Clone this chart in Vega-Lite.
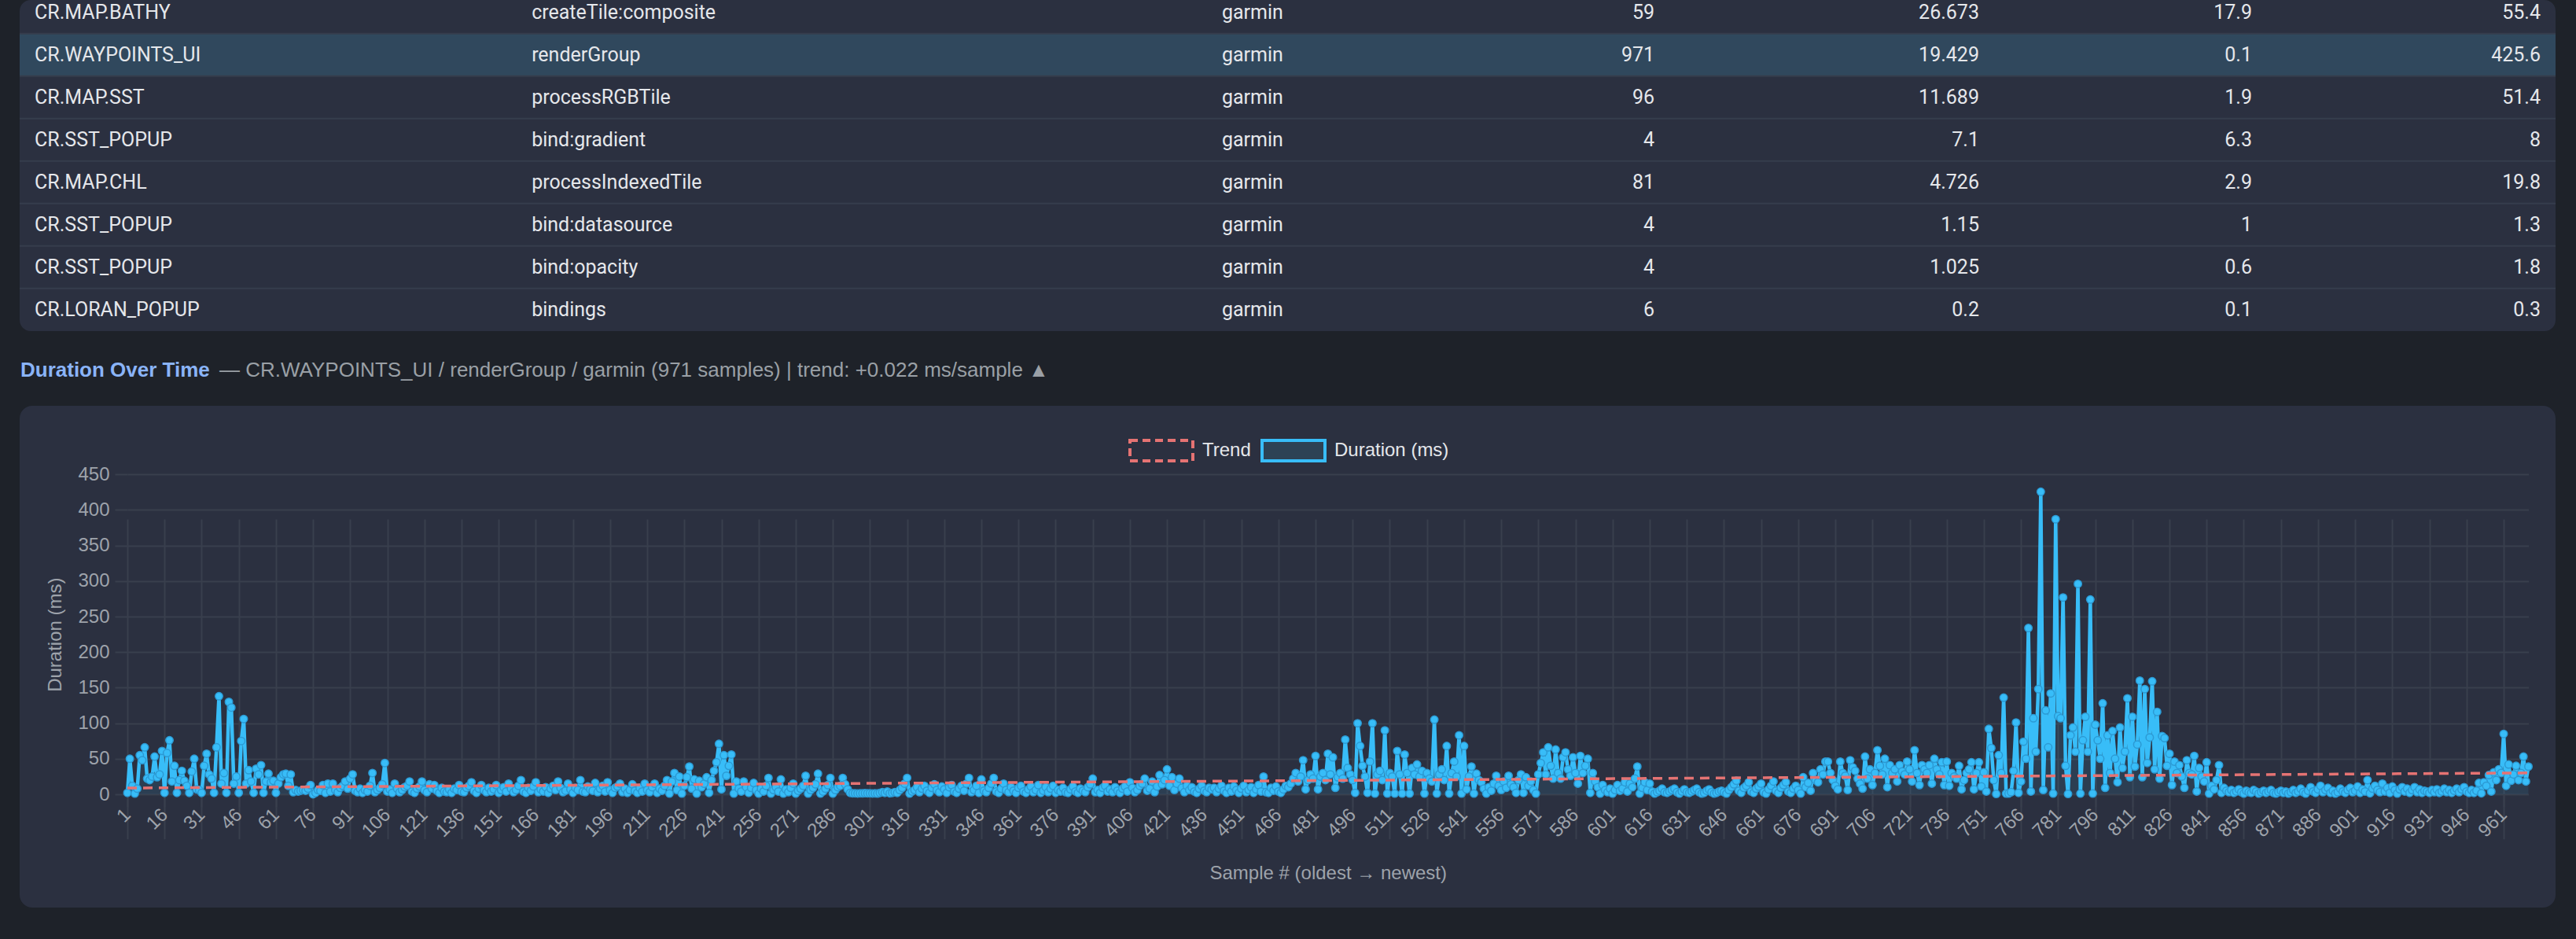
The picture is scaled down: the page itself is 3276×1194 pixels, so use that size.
{
  "$schema": "https://vega.github.io/schema/vega-lite/v6.json",
  "background": "#1e2229",
  "padding": {"left": 24, "right": 27, "top": 0, "bottom": 40},
  "spacing": 0,
  "config": {
    "view": {"stroke": null},
    "font": "Liberation Sans",
    "axis": {
      "labelFont": "Liberation Sans", "labelFontSize": 24, "labelColor": "#9ea3ab",
      "titleFont": "Liberation Sans", "titleFontSize": 24, "titleFontWeight": "normal", "titleColor": "#9ea3ab",
      "gridColor": "#393f4d", "gridWidth": 2, "tickColor": "#393f4d", "tickWidth": 2, "tickSize": 16, "domain": false
    },
    "legend": {"labelFont": "Liberation Sans", "labelFontSize": 24, "labelColor": "#e5e7eb"}
  },
  "datasets": {
    "stats": [
      {"r": 0, "name": "CR.MAP.BATHY", "op": "createTile:composite", "platform": "garmin", "count": 59, "mean": 26.673, "min": 17.9, "max": 55.4},
      {"r": 1, "name": "CR.WAYPOINTS_UI", "op": "renderGroup", "platform": "garmin", "count": 971, "mean": 19.429, "min": 0.1, "max": 425.6},
      {"r": 2, "name": "CR.MAP.SST", "op": "processRGBTile", "platform": "garmin", "count": 96, "mean": 11.689, "min": 1.9, "max": 51.4},
      {"r": 3, "name": "CR.SST_POPUP", "op": "bind:gradient", "platform": "garmin", "count": 4, "mean": 7.1, "min": 6.3, "max": 8},
      {"r": 4, "name": "CR.MAP.CHL", "op": "processIndexedTile", "platform": "garmin", "count": 81, "mean": 4.726, "min": 2.9, "max": 19.8},
      {"r": 5, "name": "CR.SST_POPUP", "op": "bind:datasource", "platform": "garmin", "count": 4, "mean": 1.15, "min": 1, "max": 1.3},
      {"r": 6, "name": "CR.SST_POPUP", "op": "bind:opacity", "platform": "garmin", "count": 4, "mean": 1.025, "min": 0.6, "max": 1.8},
      {"r": 7, "name": "CR.LORAN_POPUP", "op": "bindings", "platform": "garmin", "count": 6, "mean": 0.2, "min": 0.1, "max": 0.3}
    ],
    "trend": [{"i": 1, "ms": 8.8}, {"i": 971, "ms": 30.1}],
    "durations": [
{"i":1,"ms":2},{"i":2,"ms":50},{"i":3,"ms":12},{"i":4,"ms":1},{"i":5,"ms":8},{"i":6,"ms":55},{"i":7,"ms":48},{"i":8,"ms":66},{"i":9,"ms":22},{"i":10,"ms":20},
{"i":11,"ms":25},{"i":12,"ms":53},{"i":13,"ms":24},{"i":14,"ms":28},{"i":15,"ms":61},{"i":16,"ms":2},{"i":17,"ms":58},{"i":18,"ms":76},{"i":19,"ms":18},{"i":20,"ms":40},
{"i":21,"ms":2},{"i":22,"ms":20},{"i":23,"ms":33},{"i":24,"ms":19},{"i":25,"ms":12},{"i":26,"ms":2},{"i":27,"ms":32},{"i":28,"ms":50},{"i":29,"ms":7},{"i":30,"ms":6},
{"i":31,"ms":2},{"i":32,"ms":40},{"i":33,"ms":57},{"i":34,"ms":28},{"i":35,"ms":22},{"i":36,"ms":2},{"i":37,"ms":66},{"i":38,"ms":138},{"i":39,"ms":15},{"i":40,"ms":30},
{"i":41,"ms":2},{"i":42,"ms":130},{"i":43,"ms":122},{"i":44,"ms":15},{"i":45,"ms":25},{"i":46,"ms":2},{"i":47,"ms":75},{"i":48,"ms":106},{"i":49,"ms":15},{"i":50,"ms":34},
{"i":51,"ms":18},{"i":52,"ms":2},{"i":53,"ms":36},{"i":54,"ms":28},{"i":55,"ms":41},{"i":56,"ms":2},{"i":57,"ms":18},{"i":58,"ms":29},{"i":59,"ms":17},{"i":60,"ms":19},
{"i":61,"ms":2},{"i":62,"ms":15},{"i":63,"ms":24},{"i":64,"ms":28},{"i":65,"ms":29},{"i":66,"ms":12},{"i":67,"ms":28},{"i":68,"ms":3},{"i":69,"ms":6},{"i":70,"ms":4},
{"i":71,"ms":5},{"i":72,"ms":6},{"i":73,"ms":5},{"i":74,"ms":8},{"i":75,"ms":13},{"i":76,"ms":0.1},{"i":77,"ms":2},{"i":78,"ms":6},{"i":79,"ms":5},{"i":80,"ms":13},
{"i":81,"ms":2},{"i":82,"ms":15},{"i":83,"ms":4},{"i":84,"ms":15},{"i":85,"ms":6},{"i":86,"ms":3},{"i":87,"ms":9},{"i":88,"ms":12},{"i":89,"ms":18},{"i":90,"ms":8},
{"i":91,"ms":22},{"i":92,"ms":28},{"i":93,"ms":5},{"i":94,"ms":3},{"i":95,"ms":8},{"i":96,"ms":2},{"i":97,"ms":6},{"i":98,"ms":4},{"i":99,"ms":12},{"i":100,"ms":30},
{"i":101,"ms":3},{"i":102,"ms":6},{"i":103,"ms":9},{"i":104,"ms":14},{"i":105,"ms":44},{"i":106,"ms":4},{"i":107,"ms":7},{"i":108,"ms":2},{"i":109,"ms":15},{"i":110,"ms":8},
{"i":111,"ms":3},{"i":112,"ms":6},{"i":113,"ms":10},{"i":114,"ms":12},{"i":115,"ms":18},{"i":116,"ms":4},{"i":117,"ms":2},{"i":118,"ms":8},{"i":119,"ms":11},{"i":120,"ms":18},
{"i":121,"ms":6},{"i":122,"ms":3},{"i":123,"ms":14},{"i":124,"ms":8},{"i":125,"ms":13},{"i":126,"ms":5},{"i":127,"ms":2},{"i":128,"ms":9},{"i":129,"ms":4},{"i":130,"ms":3},
{"i":131,"ms":7},{"i":132,"ms":2},{"i":133,"ms":8},{"i":134,"ms":6},{"i":135,"ms":13},{"i":136,"ms":4},{"i":137,"ms":3},{"i":138,"ms":9},{"i":139,"ms":12},{"i":140,"ms":17},
{"i":141,"ms":5},{"i":142,"ms":2},{"i":143,"ms":8},{"i":144,"ms":13},{"i":145,"ms":6},{"i":146,"ms":3},{"i":147,"ms":9},{"i":148,"ms":4},{"i":149,"ms":7},{"i":150,"ms":13},
{"i":151,"ms":2},{"i":152,"ms":6},{"i":153,"ms":10},{"i":154,"ms":4},{"i":155,"ms":15},{"i":156,"ms":8},{"i":157,"ms":3},{"i":158,"ms":6},{"i":159,"ms":12},{"i":160,"ms":20},
{"i":161,"ms":4},{"i":162,"ms":2},{"i":163,"ms":9},{"i":164,"ms":5},{"i":165,"ms":11},{"i":166,"ms":17},{"i":167,"ms":3},{"i":168,"ms":7},{"i":169,"ms":4},{"i":170,"ms":10},
{"i":171,"ms":2},{"i":172,"ms":8},{"i":173,"ms":12},{"i":174,"ms":6},{"i":175,"ms":18},{"i":176,"ms":9},{"i":177,"ms":3},{"i":178,"ms":5},{"i":179,"ms":15},{"i":180,"ms":7},
{"i":181,"ms":2},{"i":182,"ms":9},{"i":183,"ms":6},{"i":184,"ms":20},{"i":185,"ms":4},{"i":186,"ms":3},{"i":187,"ms":11},{"i":188,"ms":7},{"i":189,"ms":5},{"i":190,"ms":16},
{"i":191,"ms":3},{"i":192,"ms":8},{"i":193,"ms":12},{"i":194,"ms":4},{"i":195,"ms":17},{"i":196,"ms":6},{"i":197,"ms":2},{"i":198,"ms":9},{"i":199,"ms":11},{"i":200,"ms":15},
{"i":201,"ms":3},{"i":202,"ms":8},{"i":203,"ms":2},{"i":204,"ms":6},{"i":205,"ms":14},{"i":206,"ms":5},{"i":207,"ms":2},{"i":208,"ms":9},{"i":209,"ms":4},{"i":210,"ms":15},
{"i":211,"ms":6},{"i":212,"ms":3},{"i":213,"ms":10},{"i":214,"ms":15},{"i":215,"ms":2},{"i":216,"ms":8},{"i":217,"ms":5},{"i":218,"ms":12},{"i":219,"ms":20},{"i":220,"ms":1},
{"i":221,"ms":18},{"i":222,"ms":30},{"i":223,"ms":6},{"i":224,"ms":25},{"i":225,"ms":1},{"i":226,"ms":12},{"i":227,"ms":24},{"i":228,"ms":39},{"i":229,"ms":8},{"i":230,"ms":21},
{"i":231,"ms":1},{"i":232,"ms":19},{"i":233,"ms":10},{"i":234,"ms":15},{"i":235,"ms":24},{"i":236,"ms":2},{"i":237,"ms":20},{"i":238,"ms":33},{"i":239,"ms":45},{"i":240,"ms":71},
{"i":241,"ms":7},{"i":242,"ms":55},{"i":243,"ms":26},{"i":244,"ms":40},{"i":245,"ms":56},{"i":246,"ms":1},{"i":247,"ms":18},{"i":248,"ms":8},{"i":249,"ms":4},{"i":250,"ms":18},
{"i":251,"ms":10},{"i":252,"ms":2},{"i":253,"ms":9},{"i":254,"ms":16},{"i":255,"ms":6},{"i":256,"ms":1},{"i":257,"ms":8},{"i":258,"ms":4},{"i":259,"ms":12},{"i":260,"ms":23},
{"i":261,"ms":1},{"i":262,"ms":6},{"i":263,"ms":10},{"i":264,"ms":4},{"i":265,"ms":21},{"i":266,"ms":1},{"i":267,"ms":7},{"i":268,"ms":3},{"i":269,"ms":9},{"i":270,"ms":15},
{"i":271,"ms":1},{"i":272,"ms":5},{"i":273,"ms":8},{"i":274,"ms":12},{"i":275,"ms":26},{"i":276,"ms":1},{"i":277,"ms":6},{"i":278,"ms":9},{"i":279,"ms":14},{"i":280,"ms":29},
{"i":281,"ms":1},{"i":282,"ms":4},{"i":283,"ms":8},{"i":284,"ms":13},{"i":285,"ms":23},{"i":286,"ms":1},{"i":287,"ms":6},{"i":288,"ms":10},{"i":289,"ms":12},{"i":290,"ms":23},
{"i":291,"ms":14},{"i":292,"ms":7},{"i":293,"ms":2},{"i":294,"ms":1.5},{"i":295,"ms":1.5},{"i":296,"ms":1.2},{"i":297,"ms":1.5},{"i":298,"ms":1.3},{"i":299,"ms":1.6},{"i":300,"ms":1.4},
{"i":301,"ms":1.5},{"i":302,"ms":1.2},{"i":303,"ms":1.3},{"i":304,"ms":1},{"i":305,"ms":2},{"i":306,"ms":3},{"i":307,"ms":2},{"i":308,"ms":4},{"i":309,"ms":1.5},{"i":310,"ms":2},
{"i":311,"ms":3},{"i":312,"ms":2},{"i":313,"ms":6},{"i":314,"ms":9},{"i":315,"ms":15},{"i":316,"ms":23},{"i":317,"ms":1},{"i":318,"ms":4},{"i":319,"ms":6},{"i":320,"ms":10},
{"i":321,"ms":3},{"i":322,"ms":8},{"i":323,"ms":12},{"i":324,"ms":5},{"i":325,"ms":2},{"i":326,"ms":9},{"i":327,"ms":14},{"i":328,"ms":6},{"i":329,"ms":3},{"i":330,"ms":11},
{"i":331,"ms":7},{"i":332,"ms":2},{"i":333,"ms":10},{"i":334,"ms":13},{"i":335,"ms":4},{"i":336,"ms":2},{"i":337,"ms":8},{"i":338,"ms":12},{"i":339,"ms":5},{"i":340,"ms":15},
{"i":341,"ms":23},{"i":342,"ms":3},{"i":343,"ms":6},{"i":344,"ms":12},{"i":345,"ms":2},{"i":346,"ms":21},{"i":347,"ms":5},{"i":348,"ms":3},{"i":349,"ms":9},{"i":350,"ms":15},
{"i":351,"ms":23},{"i":352,"ms":4},{"i":353,"ms":2},{"i":354,"ms":8},{"i":355,"ms":15},{"i":356,"ms":6},{"i":357,"ms":3},{"i":358,"ms":10},{"i":359,"ms":5},{"i":360,"ms":2},
{"i":361,"ms":9},{"i":362,"ms":12},{"i":363,"ms":4},{"i":364,"ms":2},{"i":365,"ms":7},{"i":366,"ms":11},{"i":367,"ms":3},{"i":368,"ms":6},{"i":369,"ms":13},{"i":370,"ms":2},
{"i":371,"ms":5},{"i":372,"ms":10},{"i":373,"ms":3},{"i":374,"ms":8},{"i":375,"ms":12},{"i":376,"ms":2},{"i":377,"ms":6},{"i":378,"ms":4},{"i":379,"ms":9},{"i":380,"ms":3},
{"i":381,"ms":2},{"i":382,"ms":7},{"i":383,"ms":11},{"i":384,"ms":4},{"i":385,"ms":2},{"i":386,"ms":8},{"i":387,"ms":5},{"i":388,"ms":3},{"i":389,"ms":10},{"i":390,"ms":14},
{"i":391,"ms":22},{"i":392,"ms":3},{"i":393,"ms":6},{"i":394,"ms":2},{"i":395,"ms":9},{"i":396,"ms":12},{"i":397,"ms":4},{"i":398,"ms":7},{"i":399,"ms":3},{"i":400,"ms":10},
{"i":401,"ms":5},{"i":402,"ms":2},{"i":403,"ms":8},{"i":404,"ms":11},{"i":405,"ms":4},{"i":406,"ms":17},{"i":407,"ms":9},{"i":408,"ms":3},{"i":409,"ms":6},{"i":410,"ms":12},
{"i":411,"ms":15},{"i":412,"ms":22},{"i":413,"ms":5},{"i":414,"ms":8},{"i":415,"ms":18},{"i":416,"ms":3},{"i":417,"ms":11},{"i":418,"ms":27},{"i":419,"ms":14},{"i":420,"ms":20},
{"i":421,"ms":35},{"i":422,"ms":12},{"i":423,"ms":24},{"i":424,"ms":6},{"i":425,"ms":15},{"i":426,"ms":22},{"i":427,"ms":9},{"i":428,"ms":3},{"i":429,"ms":12},{"i":430,"ms":6},
{"i":431,"ms":10},{"i":432,"ms":4},{"i":433,"ms":2},{"i":434,"ms":8},{"i":435,"ms":12},{"i":436,"ms":5},{"i":437,"ms":3},{"i":438,"ms":9},{"i":439,"ms":7},{"i":440,"ms":9},
{"i":441,"ms":3},{"i":442,"ms":8},{"i":443,"ms":12},{"i":444,"ms":5},{"i":445,"ms":2},{"i":446,"ms":9},{"i":447,"ms":4},{"i":448,"ms":11},{"i":449,"ms":6},{"i":450,"ms":2},
{"i":451,"ms":8},{"i":452,"ms":12},{"i":453,"ms":3},{"i":454,"ms":6},{"i":455,"ms":10},{"i":456,"ms":2},{"i":457,"ms":7},{"i":458,"ms":13},{"i":459,"ms":4},{"i":460,"ms":25},
{"i":461,"ms":3},{"i":462,"ms":2},{"i":463,"ms":9},{"i":464,"ms":5},{"i":465,"ms":11},{"i":466,"ms":4},{"i":467,"ms":2},{"i":468,"ms":7},{"i":469,"ms":12},{"i":470,"ms":10},
{"i":471,"ms":15},{"i":472,"ms":22},{"i":473,"ms":30},{"i":474,"ms":18},{"i":475,"ms":25},{"i":476,"ms":48},{"i":477,"ms":7},{"i":478,"ms":20},{"i":479,"ms":28},{"i":480,"ms":22},
{"i":481,"ms":54},{"i":482,"ms":7},{"i":483,"ms":25},{"i":484,"ms":30},{"i":485,"ms":20},{"i":486,"ms":57},{"i":487,"ms":28},{"i":488,"ms":52},{"i":489,"ms":9},{"i":490,"ms":24},
{"i":491,"ms":30},{"i":492,"ms":22},{"i":493,"ms":77},{"i":494,"ms":37},{"i":495,"ms":28},{"i":496,"ms":20},{"i":497,"ms":2},{"i":498,"ms":100},{"i":499,"ms":68},{"i":500,"ms":40},
{"i":501,"ms":25},{"i":502,"ms":2},{"i":503,"ms":46},{"i":504,"ms":100},{"i":505,"ms":1},{"i":506,"ms":28},{"i":507,"ms":33},{"i":508,"ms":20},{"i":509,"ms":90},{"i":510,"ms":1},
{"i":511,"ms":30},{"i":512,"ms":25},{"i":513,"ms":1},{"i":514,"ms":61},{"i":515,"ms":28},{"i":516,"ms":1},{"i":517,"ms":56},{"i":518,"ms":30},{"i":519,"ms":1},{"i":520,"ms":37},
{"i":521,"ms":28},{"i":522,"ms":42},{"i":523,"ms":25},{"i":524,"ms":33},{"i":525,"ms":1},{"i":526,"ms":30},{"i":527,"ms":22},{"i":528,"ms":18},{"i":529,"ms":105},{"i":530,"ms":1},
{"i":531,"ms":28},{"i":532,"ms":35},{"i":533,"ms":20},{"i":534,"ms":68},{"i":535,"ms":1},{"i":536,"ms":30},{"i":537,"ms":46},{"i":538,"ms":25},{"i":539,"ms":83},{"i":540,"ms":1},
{"i":541,"ms":68},{"i":542,"ms":7},{"i":543,"ms":25},{"i":544,"ms":39},{"i":545,"ms":1},{"i":546,"ms":29},{"i":547,"ms":20},{"i":548,"ms":17},{"i":549,"ms":8},{"i":550,"ms":1},
{"i":551,"ms":10},{"i":552,"ms":5},{"i":553,"ms":15},{"i":554,"ms":26},{"i":555,"ms":12},{"i":556,"ms":6},{"i":557,"ms":18},{"i":558,"ms":9},{"i":559,"ms":26},{"i":560,"ms":14},
{"i":561,"ms":10},{"i":562,"ms":2},{"i":563,"ms":20},{"i":564,"ms":28},{"i":565,"ms":2},{"i":566,"ms":24},{"i":567,"ms":12},{"i":568,"ms":18},{"i":569,"ms":6},{"i":570,"ms":1},
{"i":571,"ms":28},{"i":572,"ms":44},{"i":573,"ms":59},{"i":574,"ms":28},{"i":575,"ms":66},{"i":576,"ms":40},{"i":577,"ms":22},{"i":578,"ms":63},{"i":579,"ms":30},{"i":580,"ms":22},
{"i":581,"ms":52},{"i":582,"ms":59},{"i":583,"ms":35},{"i":584,"ms":26},{"i":585,"ms":52},{"i":586,"ms":30},{"i":587,"ms":15},{"i":588,"ms":54},{"i":589,"ms":30},{"i":590,"ms":40},
{"i":591,"ms":50},{"i":592,"ms":2},{"i":593,"ms":30},{"i":594,"ms":18},{"i":595,"ms":10},{"i":596,"ms":1},{"i":597,"ms":13},{"i":598,"ms":6},{"i":599,"ms":3},{"i":600,"ms":8},
{"i":601,"ms":1},{"i":602,"ms":6},{"i":603,"ms":13},{"i":604,"ms":5},{"i":605,"ms":8},{"i":606,"ms":17},{"i":607,"ms":4},{"i":608,"ms":15},{"i":609,"ms":10},{"i":610,"ms":22},
{"i":611,"ms":39},{"i":612,"ms":1},{"i":613,"ms":9},{"i":614,"ms":17},{"i":615,"ms":6},{"i":616,"ms":15},{"i":617,"ms":4},{"i":618,"ms":1},{"i":619,"ms":3},{"i":620,"ms":5},
{"i":621,"ms":8},{"i":622,"ms":3},{"i":623,"ms":2},{"i":624,"ms":4},{"i":625,"ms":6},{"i":626,"ms":8},{"i":627,"ms":3},{"i":628,"ms":1},{"i":629,"ms":4},{"i":630,"ms":7},
{"i":631,"ms":3},{"i":632,"ms":2},{"i":633,"ms":4},{"i":634,"ms":6},{"i":635,"ms":8},{"i":636,"ms":3},{"i":637,"ms":1},{"i":638,"ms":2},{"i":639,"ms":5},{"i":640,"ms":7},
{"i":641,"ms":3},{"i":642,"ms":1},{"i":643,"ms":2},{"i":644,"ms":4},{"i":645,"ms":5},{"i":646,"ms":3},{"i":647,"ms":1},{"i":648,"ms":6},{"i":649,"ms":10},{"i":650,"ms":14},
{"i":651,"ms":19},{"i":652,"ms":5},{"i":653,"ms":2},{"i":654,"ms":9},{"i":655,"ms":12},{"i":656,"ms":17},{"i":657,"ms":4},{"i":658,"ms":2},{"i":659,"ms":8},{"i":660,"ms":11},
{"i":661,"ms":15},{"i":662,"ms":3},{"i":663,"ms":1},{"i":664,"ms":7},{"i":665,"ms":12},{"i":666,"ms":18},{"i":667,"ms":5},{"i":668,"ms":2},{"i":669,"ms":9},{"i":670,"ms":13},
{"i":671,"ms":17},{"i":672,"ms":4},{"i":673,"ms":2},{"i":674,"ms":8},{"i":675,"ms":12},{"i":676,"ms":6},{"i":677,"ms":1},{"i":678,"ms":24},{"i":679,"ms":10},{"i":680,"ms":16},
{"i":681,"ms":5},{"i":682,"ms":30},{"i":683,"ms":20},{"i":684,"ms":17},{"i":685,"ms":35},{"i":686,"ms":28},{"i":687,"ms":46},{"i":688,"ms":46},{"i":689,"ms":30},{"i":690,"ms":20},
{"i":691,"ms":12},{"i":692,"ms":7},{"i":693,"ms":46},{"i":694,"ms":30},{"i":695,"ms":26},{"i":696,"ms":6},{"i":697,"ms":48},{"i":698,"ms":38},{"i":699,"ms":33},{"i":700,"ms":22},
{"i":701,"ms":15},{"i":702,"ms":8},{"i":703,"ms":53},{"i":704,"ms":22},{"i":705,"ms":35},{"i":706,"ms":13},{"i":707,"ms":30},{"i":708,"ms":62},{"i":709,"ms":40},{"i":710,"ms":28},
{"i":711,"ms":50},{"i":712,"ms":10},{"i":713,"ms":41},{"i":714,"ms":30},{"i":715,"ms":35},{"i":716,"ms":18},{"i":717,"ms":41},{"i":718,"ms":32},{"i":719,"ms":28},{"i":720,"ms":46},
{"i":721,"ms":35},{"i":722,"ms":18},{"i":723,"ms":62},{"i":724,"ms":30},{"i":725,"ms":13},{"i":726,"ms":41},{"i":727,"ms":35},{"i":728,"ms":30},{"i":729,"ms":41},{"i":730,"ms":15},
{"i":731,"ms":50},{"i":732,"ms":35},{"i":733,"ms":28},{"i":734,"ms":45},{"i":735,"ms":13},{"i":736,"ms":46},{"i":737,"ms":12},{"i":738,"ms":30},{"i":739,"ms":25},{"i":740,"ms":22},
{"i":741,"ms":40},{"i":742,"ms":7},{"i":743,"ms":20},{"i":744,"ms":30},{"i":745,"ms":35},{"i":746,"ms":45},{"i":747,"ms":7},{"i":748,"ms":30},{"i":749,"ms":45},{"i":750,"ms":11},
{"i":751,"ms":31},{"i":752,"ms":4},{"i":753,"ms":92},{"i":754,"ms":65},{"i":755,"ms":20},{"i":756,"ms":0.5},{"i":757,"ms":55},{"i":758,"ms":30},{"i":759,"ms":136},{"i":760,"ms":1},
{"i":761,"ms":1},{"i":762,"ms":3},{"i":763,"ms":33},{"i":764,"ms":101},{"i":765,"ms":2},{"i":766,"ms":18},{"i":767,"ms":74},{"i":768,"ms":50},{"i":769,"ms":234},{"i":770,"ms":4},
{"i":771,"ms":107},{"i":772,"ms":60},{"i":773,"ms":148},{"i":774,"ms":425.6},{"i":775,"ms":6},{"i":776,"ms":118},{"i":777,"ms":66},{"i":778,"ms":142},{"i":779,"ms":1},{"i":780,"ms":387},
{"i":781,"ms":110},{"i":782,"ms":107},{"i":783,"ms":277},{"i":784,"ms":40},{"i":785,"ms":0.5},{"i":786,"ms":83},{"i":787,"ms":94},{"i":788,"ms":60},{"i":789,"ms":296},{"i":790,"ms":1},
{"i":791,"ms":76},{"i":792,"ms":109},{"i":793,"ms":60},{"i":794,"ms":274},{"i":795,"ms":1},{"i":796,"ms":98},{"i":797,"ms":76},{"i":798,"ms":50},{"i":799,"ms":128},{"i":800,"ms":9},
{"i":801,"ms":83},{"i":802,"ms":30},{"i":803,"ms":89},{"i":804,"ms":50},{"i":805,"ms":17},{"i":806,"ms":94},{"i":807,"ms":37},{"i":808,"ms":60},{"i":809,"ms":135},{"i":810,"ms":24},
{"i":811,"ms":109},{"i":812,"ms":39},{"i":813,"ms":70},{"i":814,"ms":160},{"i":815,"ms":24},{"i":816,"ms":148},{"i":817,"ms":44},{"i":818,"ms":80},{"i":819,"ms":159},{"i":820,"ms":35},
{"i":821,"ms":116},{"i":822,"ms":22},{"i":823,"ms":82},{"i":824,"ms":79},{"i":825,"ms":40},{"i":826,"ms":57},{"i":827,"ms":13},{"i":828,"ms":46},{"i":829,"ms":30},{"i":830,"ms":41},
{"i":831,"ms":25},{"i":832,"ms":9},{"i":833,"ms":48},{"i":834,"ms":30},{"i":835,"ms":28},{"i":836,"ms":54},{"i":837,"ms":4},{"i":838,"ms":37},{"i":839,"ms":25},{"i":840,"ms":18},
{"i":841,"ms":45},{"i":842,"ms":1},{"i":843,"ms":12},{"i":844,"ms":7},{"i":845,"ms":20},{"i":846,"ms":41},{"i":847,"ms":2},{"i":848,"ms":9},{"i":849,"ms":5},{"i":850,"ms":3},
{"i":851,"ms":6},{"i":852,"ms":2},{"i":853,"ms":4},{"i":854,"ms":7},{"i":855,"ms":3},{"i":856,"ms":1},{"i":857,"ms":5},{"i":858,"ms":3},{"i":859,"ms":2},{"i":860,"ms":6},
{"i":861,"ms":4},{"i":862,"ms":1},{"i":863,"ms":3},{"i":864,"ms":5},{"i":865,"ms":2},{"i":866,"ms":4},{"i":867,"ms":6},{"i":868,"ms":2},{"i":869,"ms":1},{"i":870,"ms":3},
{"i":871,"ms":5},{"i":872,"ms":2},{"i":873,"ms":4},{"i":874,"ms":1},{"i":875,"ms":3},{"i":876,"ms":6},{"i":877,"ms":2},{"i":878,"ms":4},{"i":879,"ms":8},{"i":880,"ms":3},
{"i":881,"ms":1},{"i":882,"ms":5},{"i":883,"ms":10},{"i":884,"ms":4},{"i":885,"ms":2},{"i":886,"ms":7},{"i":887,"ms":12},{"i":888,"ms":3},{"i":889,"ms":6},{"i":890,"ms":9},
{"i":891,"ms":2},{"i":892,"ms":5},{"i":893,"ms":1},{"i":894,"ms":3},{"i":895,"ms":8},{"i":896,"ms":4},{"i":897,"ms":2},{"i":898,"ms":6},{"i":899,"ms":9},{"i":900,"ms":3},
{"i":901,"ms":5},{"i":902,"ms":11},{"i":903,"ms":2},{"i":904,"ms":7},{"i":905,"ms":4},{"i":906,"ms":20},{"i":907,"ms":1.5},{"i":908,"ms":8},{"i":909,"ms":12},{"i":910,"ms":6},
{"i":911,"ms":3},{"i":912,"ms":15},{"i":913,"ms":4},{"i":914,"ms":9},{"i":915,"ms":2},{"i":916,"ms":11},{"i":917,"ms":6},{"i":918,"ms":1},{"i":919,"ms":7},{"i":920,"ms":10},
{"i":921,"ms":4},{"i":922,"ms":8},{"i":923,"ms":2},{"i":924,"ms":6},{"i":925,"ms":10},{"i":926,"ms":3},{"i":927,"ms":7},{"i":928,"ms":2},{"i":929,"ms":5},{"i":930,"ms":4},
{"i":931,"ms":2},{"i":932,"ms":6},{"i":933,"ms":3},{"i":934,"ms":7},{"i":935,"ms":2},{"i":936,"ms":4},{"i":937,"ms":8},{"i":938,"ms":3},{"i":939,"ms":6},{"i":940,"ms":2},
{"i":941,"ms":5},{"i":942,"ms":8},{"i":943,"ms":3},{"i":944,"ms":7},{"i":945,"ms":10},{"i":946,"ms":4},{"i":947,"ms":2},{"i":948,"ms":6},{"i":949,"ms":2},{"i":950,"ms":5},
{"i":951,"ms":16},{"i":952,"ms":1.5},{"i":953,"ms":17},{"i":954,"ms":12},{"i":955,"ms":27},{"i":956,"ms":4},{"i":957,"ms":31},{"i":958,"ms":20},{"i":959,"ms":35},{"i":960,"ms":30},
{"i":961,"ms":85},{"i":962,"ms":12},{"i":963,"ms":42},{"i":964,"ms":19},{"i":965,"ms":28},{"i":966,"ms":40},{"i":967,"ms":20},{"i":968,"ms":30},{"i":969,"ms":53},{"i":970,"ms":18},
{"i":971,"ms":39}
    ]
  },
  "vconcat": [
    {
      "width": 3225,
      "height": 421,
      "data": {"name": "stats"},
      "view": {"fill": "#2b3040", "cornerRadius": 14, "stroke": null},
      "encoding": {
        "y": {"field": "r", "type": "ordinal", "scale": {"range": [-11.3, 420.7], "paddingInner": 0, "paddingOuter": 0}, "axis": null}
      },
      "layer": [
        {
          "transform": [{"filter": "datum.op === 'renderGroup'"}],
          "mark": {"type": "rect", "fill": "#30485d"},
          "encoding": {
            "x": {"datum": 0, "type": "quantitative", "scale": {"domain": [0, 100], "nice": false, "zero": false}, "axis": null},
            "x2": {"datum": 100}
          }
        },
        {
          "transform": [{"filter": "datum.r < 7"}],
          "mark": {"type": "rule", "stroke": "#363d4c", "strokeWidth": 2},
          "encoding": {
            "y": {"field": "r", "type": "ordinal", "bandPosition": 1, "axis": null},
            "x": {"datum": 0, "type": "quantitative", "axis": null},
            "x2": {"datum": 100}
          }
        },
        {
          "mark": {"type": "text", "align": "left", "baseline": "middle", "fontSize": 25, "font": "Roboto", "fill": "#e5e7eb"},
          "encoding": {"x": {"datum": 0.59, "type": "quantitative", "axis": null}, "text": {"field": "name", "type": "nominal"}}
        },
        {
          "mark": {"type": "text", "align": "left", "baseline": "middle", "fontSize": 25, "font": "Roboto", "fill": "#e5e7eb"},
          "encoding": {"x": {"datum": 20.19, "type": "quantitative", "axis": null}, "text": {"field": "op", "type": "nominal"}}
        },
        {
          "mark": {"type": "text", "align": "left", "baseline": "middle", "fontSize": 25, "font": "Roboto", "fill": "#e5e7eb"},
          "encoding": {"x": {"datum": 47.41, "type": "quantitative", "axis": null}, "text": {"field": "platform", "type": "nominal"}}
        },
        {
          "mark": {"type": "text", "align": "right", "baseline": "middle", "fontSize": 25, "font": "Roboto", "fill": "#e5e7eb"},
          "encoding": {"x": {"datum": 64.47, "type": "quantitative", "axis": null}, "text": {"field": "count", "type": "nominal"}}
        },
        {
          "mark": {"type": "text", "align": "right", "baseline": "middle", "fontSize": 25, "font": "Roboto", "fill": "#e5e7eb"},
          "encoding": {"x": {"datum": 77.27, "type": "quantitative", "axis": null}, "text": {"field": "mean", "type": "nominal"}}
        },
        {
          "mark": {"type": "text", "align": "right", "baseline": "middle", "fontSize": 25, "font": "Roboto", "fill": "#e5e7eb"},
          "encoding": {"x": {"datum": 88.03, "type": "quantitative", "axis": null}, "text": {"field": "min", "type": "nominal"}}
        },
        {
          "mark": {"type": "text", "align": "right", "baseline": "middle", "fontSize": 25, "font": "Roboto", "fill": "#e5e7eb"},
          "encoding": {"x": {"datum": 99.41, "type": "quantitative", "axis": null}, "text": {"field": "max", "type": "nominal"}}
        }
      ]
    },
    {
      "width": 3225,
      "height": 95,
      "data": {"values": [{"head": "Duration Over Time", "rest": "— CR.WAYPOINTS_UI / renderGroup / garmin (971 samples) | trend: +0.022 ms/sample ▲"}]},
      "layer": [
        {
          "mark": {"type": "text", "align": "left", "baseline": "middle", "fontSize": 26, "fontWeight": "bold", "fill": "#8ab4f8"},
          "encoding": {"x": {"value": 1}, "y": {"value": 50}, "text": {"field": "head", "type": "nominal"}}
        },
        {
          "mark": {"type": "text", "align": "left", "baseline": "middle", "fontSize": 26, "fill": "#9aa0a6"},
          "encoding": {"x": {"value": 254}, "y": {"value": 50}, "text": {"field": "rest", "type": "nominal"}}
        }
      ]
    },
    {
      "width": 3225,
      "height": 638,
      "view": {"fill": "#2b3040", "cornerRadius": 16, "stroke": null},
      "encoding": {
        "x": {
          "field": "i", "type": "quantitative",
          "scale": {"domain": [1, 971], "range": [137, 3190.5], "nice": false, "zero": false},
          "axis": {
            "title": "Sample # (oldest → newest)",
            "values": [1,16,31,46,61,76,91,106,121,136,151,166,181,196,211,226,241,256,271,286,301,316,331,346,361,376,391,406,421,436,451,466,481,496,511,526,541,556,571,586,601,616,631,646,661,676,691,706,721,736,751,766,781,796,811,826,841,856,871,886,901,916,931,946,961],
            "format": "d", "labelAngle": -45, "labelAlign": "right", "labelBaseline": "middle",
            "labelPadding": 6, "labelOverlap": false, "labelFlush": false,
            "offset": -144, "titlePadding": 30, "grid": true
          }
        },
        "y": {
          "field": "ms", "type": "quantitative",
          "scale": {"domain": [0, 450], "range": [494, 87.3], "nice": false, "zero": false},
          "axis": {
            "title": "Duration (ms)",
            "values": [0, 50, 100, 150, 200, 250, 300, 350, 400, 450],
            "offset": -137, "labelPadding": 7, "titlePadding": 16, "grid": true, "labelOverlap": false
          }
        }
      },
      "layer": [
        {
          "data": {"name": "durations"},
          "mark": {"type": "area", "fill": "#38bdf8", "fillOpacity": 0.1}
        },
        {
          "data": {"name": "durations"},
          "mark": {"type": "line", "strokeWidth": 4.5, "strokeJoin": "round"},
          "encoding": {
            "color": {
              "datum": "Duration (ms)", "type": "nominal",
              "scale": {"range": ["#38bdf8"]},
              "legend": {
                "orient": "none", "legendX": 1578, "legendY": 531, "title": null, "padding": 0,
                "symbolType": "M-1,-0.325H1V0.325H-1Z", "symbolSize": 6400, "labelOffset": 10,
                "encode": {"symbols": {"update": {"fill": {"value": "#2d4254"}, "stroke": {"value": "#38bdf8"}, "strokeWidth": {"value": 4}, "opacity": {"value": 1}}}}
              }
            }
          }
        },
        {
          "data": {"name": "durations"},
          "mark": {"type": "circle", "size": 90, "fill": "#38bdf8", "stroke": "#2c9ad4", "strokeWidth": 1.5, "opacity": 1}
        },
        {
          "data": {"name": "trend"},
          "mark": {"type": "line", "strokeWidth": 3.5, "strokeDash": [12, 8]},
          "encoding": {
            "stroke": {
              "datum": "Trend", "type": "nominal",
              "scale": {"range": ["#e57373"]},
              "legend": {
                "orient": "none", "legendX": 1410, "legendY": 531, "title": null, "padding": 0,
                "symbolType": "M-1,-0.325H1V0.325H-1Z", "symbolSize": 6400, "labelOffset": 10,
                "encode": {"symbols": {"update": {"fill": {"value": "transparent"}, "stroke": {"value": "#e57373"}, "strokeWidth": {"value": 4}, "strokeDash": {"value": [10, 6]}, "opacity": {"value": 1}}}}
              }
            }
          }
        }
      ]
    }
  ]
}
